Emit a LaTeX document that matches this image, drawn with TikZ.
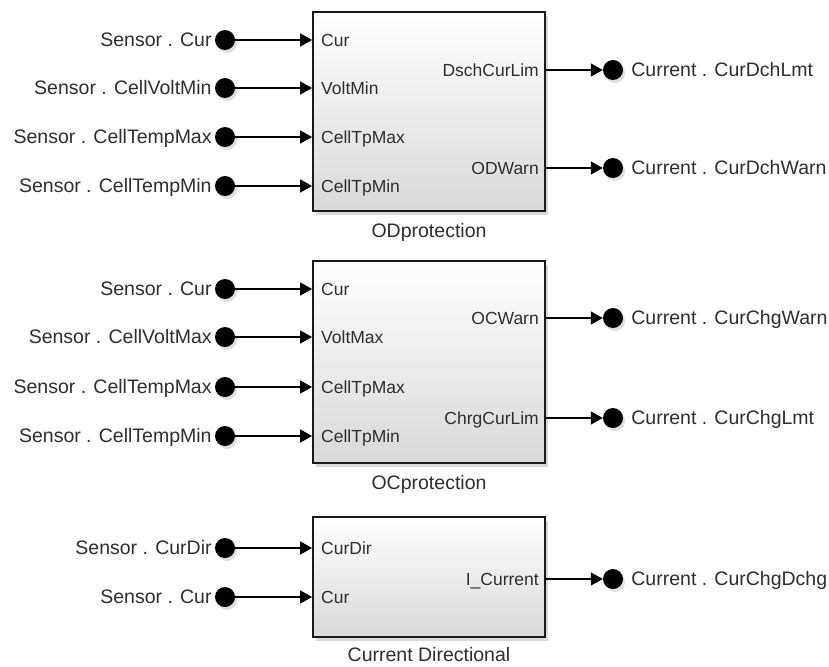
\documentclass[tikz,border=0pt]{standalone}
\usepackage{fontspec}
\setmainfont{Liberation Sans}
\usetikzlibrary{arrows.meta,positioning,shadows}

\begin{document}
\begin{tikzpicture}[
  x=1pt,y=-1pt,
  font=\fontsize{19.5}{22}\selectfont,
  text=black!82,
  blk/.style={draw=black!90,line width=1.8pt,top color=white,bottom color=black!15,inner sep=0pt,
    minimum width=232pt,drop shadow={opacity=.3,shadow xshift=3pt,shadow yshift=-4pt}},
  portdot/.style={circle,fill=black,minimum size=20pt,inner sep=0pt,
    drop shadow={opacity=.25,shadow xshift=2pt,shadow yshift=-3pt}},
  sig/.style={text height=13.5pt,text depth=0pt,inner sep=0pt},
  port/.style={font=\fontsize{17.5}{20}\selectfont,text height=12.5pt,text depth=0pt,inner sep=0pt},
  title/.style={text height=13.5pt,text depth=4pt,inner sep=0pt},
  arr/.style={-{Triangle[length=12pt,width=13pt]},line width=1.3pt},
]
\useasboundingbox (0,0) rectangle (829,666);

% ODprotection
\node[blk,minimum height=199pt] (od) at (429,111.5) {};
\node[title,below=12pt of od] (odt) {ODprotection};
\node[port,anchor=west] (odp1) at (321,40) {Cur};
\node[port,anchor=west] (odp2) at (321,88) {VoltMin};
\node[port,anchor=west] (odp3) at (321,137) {CellTpMax};
\node[port,anchor=west] (odp4) at (321,186) {CellTpMin};
\node[port,anchor=east] (odq1) at (539,70) {DschCurLim};
\node[port,anchor=east] (odq2) at (539,168) {ODWarn};
\node[portdot] (ods1) at (225,40) {};
\node[portdot] (ods2) at (225,88) {};
\node[portdot] (ods3) at (225,137) {};
\node[portdot] (ods4) at (225,186) {};
\node[sig,left=3pt of ods1] (odl1) {Sensor . Cur};
\node[sig,left=3pt of ods2] (odl2) {Sensor . CellVoltMin};
\node[sig,left=3pt of ods3] (odl3) {Sensor . CellTempMax};
\node[sig,left=3pt of ods4] (odl4) {Sensor . CellTempMin};
\node[portdot] (odc1) at (613,70) {};
\node[portdot] (odc2) at (613,168) {};
\node[sig,right=8pt of odc1] (odr1) {Current . CurDchLmt};
\node[sig,right=8pt of odc2] (odr2) {Current . CurDchWarn};
\draw[arr] (ods1) -- (ods1 -| od.west);
\draw[arr] (ods2) -- (ods2 -| od.west);
\draw[arr] (ods3) -- (ods3 -| od.west);
\draw[arr] (ods4) -- (ods4 -| od.west);
\draw[arr] (odc1 -| od.east) -- (odc1.west);
\draw[arr] (odc2 -| od.east) -- (odc2.west);

% OCprotection
\node[blk,minimum height=202pt] (oc) at (429,362) {};
\node[title,below=12pt of oc] (oct) {OCprotection};
\node[port,anchor=west] (ocp1) at (321,289) {Cur};
\node[port,anchor=west] (ocp2) at (321,337) {VoltMax};
\node[port,anchor=west] (ocp3) at (321,387) {CellTpMax};
\node[port,anchor=west] (ocp4) at (321,436) {CellTpMin};
\node[port,anchor=east] (ocq1) at (539,318) {OCWarn};
\node[port,anchor=east] (ocq2) at (539,418) {ChrgCurLim};
\node[portdot] (ocs1) at (225,289) {};
\node[portdot] (ocs2) at (225,337) {};
\node[portdot] (ocs3) at (225,387) {};
\node[portdot] (ocs4) at (225,436) {};
\node[sig,left=3pt of ocs1] (ocl1) {Sensor . Cur};
\node[sig,left=3pt of ocs2] (ocl2) {Sensor . CellVoltMax};
\node[sig,left=3pt of ocs3] (ocl3) {Sensor . CellTempMax};
\node[sig,left=3pt of ocs4] (ocl4) {Sensor . CellTempMin};
\node[portdot] (occ1) at (613,318) {};
\node[portdot] (occ2) at (613,418) {};
\node[sig,right=8pt of occ1] (ocr1) {Current . CurChgWarn};
\node[sig,right=8pt of occ2] (ocr2) {Current . CurChgLmt};
\draw[arr] (ocs1) -- (ocs1 -| oc.west);
\draw[arr] (ocs2) -- (ocs2 -| oc.west);
\draw[arr] (ocs3) -- (ocs3 -| oc.west);
\draw[arr] (ocs4) -- (ocs4 -| oc.west);
\draw[arr] (occ1 -| oc.east) -- (occ1.west);
\draw[arr] (occ2 -| oc.east) -- (occ2.west);

% Current Directional
\node[blk,minimum height=120pt] (cd) at (429,577) {};
\node[title,below=10pt of cd] (cdt) {Current Directional};
\node[port,anchor=west] (cdp1) at (321,548) {CurDir};
\node[port,anchor=west] (cdp2) at (321,597) {Cur};
\node[port,anchor=east] (cdq1) at (539,579) {I\_Current};
\node[portdot] (cds1) at (225,548) {};
\node[portdot] (cds2) at (225,597) {};
\node[sig,left=3pt of cds1] (cdl1) {Sensor . CurDir};
\node[sig,left=3pt of cds2] (cdl2) {Sensor . Cur};
\node[portdot] (cdc1) at (613,579) {};
\node[sig,right=8pt of cdc1] (cdr1) {Current . CurChgDchg};
\draw[arr] (cds1) -- (cds1 -| cd.west);
\draw[arr] (cds2) -- (cds2 -| cd.west);
\draw[arr] (cdc1 -| cd.east) -- (cdc1.west);
\end{tikzpicture}
\end{document}
